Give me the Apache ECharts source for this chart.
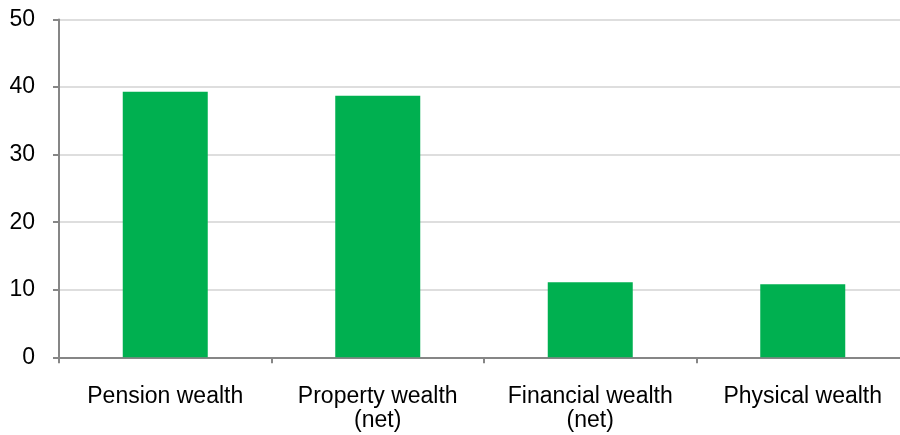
<!DOCTYPE html>
<html>
<head>
<meta charset="utf-8">
<script src="https://cdn.jsdelivr.net/npm/echarts@6/dist/echarts.min.js"></script>
<style>
  html, body { margin: 0; padding: 0; background: #ffffff; overflow: hidden; }
  #wrap { width: 900px; height: 435px; overflow: hidden; }
  /* the plot runs slightly past the right edge of the view */
  #chart { width: 909px; height: 435px; }
</style>
</head>
<body>
<div id="wrap"><div id="chart"></div></div>
<script>
// Household wealth by component
const categories = ['Pension wealth', 'Property wealth\n(net)', 'Financial wealth\n(net)', 'Physical wealth'];
const shares = [39.3, 38.7, 11.1, 10.8];
const yTicks = { min: 0, max: 50, interval: 10 };

const chart = echarts.init(document.getElementById('chart'), null, { renderer: 'canvas' });
const font = '"Liberation Sans", Arial, sans-serif';

chart.setOption({
  animation: false,
  backgroundColor: '#ffffff',
  grid: { left: 59, top: 19.5, bottom: 77.7, right: 0, containLabel: false },
  xAxis: {
    type: 'category',
    data: categories,
    axisLine: { show: true, lineStyle: { color: '#868686', width: 2 } },
    axisTick: { show: true, length: 6, lineStyle: { color: '#868686', width: 2 } },
    axisLabel: {
      color: '#000000', fontSize: 23, fontFamily: font, margin: 27,
      lineHeight: 24, interval: 0
    },
    splitLine: { show: false }
  },
  yAxis: {
    type: 'value',
    min: yTicks.min, max: yTicks.max, interval: yTicks.interval,
    axisLine: { show: true, lineStyle: { color: '#868686', width: 2 } },
    axisTick: { show: true, length: 6, lineStyle: { color: '#868686', width: 2 } },
    axisLabel: { color: '#000000', fontSize: 23, fontFamily: font, margin: 24 },
    splitLine: { show: true, lineStyle: { color: '#dedede', width: 2 } }
  },
  series: [{
    type: 'bar',
    data: shares,
    barWidth: 85,
    itemStyle: { color: '#00b050' }
  }]
});
</script>
</body>
</html>
